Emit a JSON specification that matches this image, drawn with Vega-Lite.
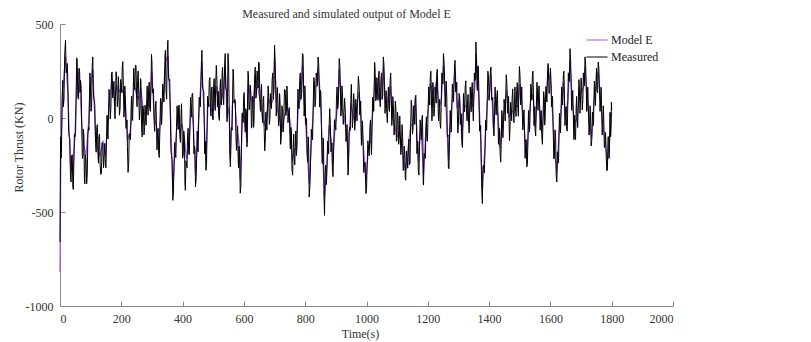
{
"$schema": "https://vega.github.io/schema/vega-lite/v6.json",
"width": 613, "height": 282,
"autosize": "none",
"padding": {"left": 60, "top": 24, "right": 138, "bottom": 36},
"background": "white",
"config": {
"view": {"stroke": null},
"axis": {"domainColor": "#888", "tickColor": "#888", "labelFont": "Liberation Serif", "labelFontSize": 12, "labelColor": "#333", "titleFont": "Liberation Serif", "titleFontSize": 12, "titleFontWeight": "normal", "titleColor": "#333", "grid": false, "tickSize": -5, "labelPadding": 12, "labelExpr": "'' + datum.value"},
"legend": {"labelFont": "Liberation Serif", "labelFontSize": 12, "labelColor": "#222"}
},
"title": {"text": "Measured and simulated output of Model E", "font": "Liberation Serif", "fontSize": 12, "fontWeight": "normal", "color": "#333", "offset": -3, "dx": -20},
"datasets": {
"meas": [{"t":0,"v":-660},{"t":1,"v":-290},{"t":2,"v":-100},{"t":3.5,"v":-215},{"t":5,"v":-150},{"t":7,"v":115},{"t":9,"v":200},{"t":11,"v":60},{"t":13,"v":100},{"t":15.5,"v":346},{"t":18,"v":413},{"t":20,"v":241},{"t":22,"v":250},{"t":24,"v":290},{"t":26,"v":150},{"t":28,"v":-65},{"t":30,"v":-100},{"t":32,"v":-110},{"t":34,"v":-300},{"t":36,"v":-340},{"t":38,"v":-200},{"t":40,"v":-195},{"t":42,"v":-370},{"t":43.5,"v":-380},{"t":45,"v":-250},{"t":47,"v":-85},{"t":49,"v":-100},{"t":51,"v":-65},{"t":53,"v":150},{"t":54.5,"v":320},{"t":56,"v":310},{"t":58,"v":115},{"t":60,"v":100},{"t":62,"v":265},{"t":64,"v":250},{"t":65.5,"v":135},{"t":67,"v":200},{"t":69,"v":165},{"t":71,"v":-50},{"t":73,"v":-215},{"t":75,"v":-200},{"t":76.5,"v":-60},{"t":78,"v":-100},{"t":79.5,"v":-315},{"t":81,"v":-350},{"t":83,"v":-195},{"t":85,"v":-220},{"t":87,"v":-350},{"t":89,"v":-300},{"t":91,"v":-85},{"t":93,"v":-50},{"t":94.5,"v":-65},{"t":96,"v":100},{"t":97.5,"v":240},{"t":99,"v":200},{"t":101,"v":35},{"t":103,"v":50},{"t":105,"v":277},{"t":107,"v":325},{"t":109,"v":122},{"t":111,"v":100},{"t":113.5,"v":73},{"t":116,"v":-135},{"t":118,"v":-182},{"t":120,"v":-50},{"t":122,"v":-35},{"t":124,"v":-200},{"t":125.5,"v":-240},{"t":127,"v":-100},{"t":129,"v":-85},{"t":131,"v":-250},{"t":133,"v":-300},{"t":135,"v":-295},{"t":137.5,"v":-132},{"t":140,"v":-150},{"t":142,"v":-265},{"t":144,"v":-200},{"t":146,"v":-135},{"t":148,"v":-250},{"t":150,"v":-265},{"t":152,"v":-100},{"t":153.5,"v":15},{"t":155,"v":-50},{"t":156.5,"v":-112},{"t":158,"v":5},{"t":160,"v":152},{"t":162,"v":120},{"t":164,"v":-5},{"t":166,"v":50},{"t":168,"v":237},{"t":170,"v":245},{"t":172,"v":107},{"t":174,"v":150},{"t":176,"v":195},{"t":178,"v":60},{"t":179.5,"v":-4},{"t":181,"v":112},{"t":183,"v":246},{"t":185,"v":200},{"t":187,"v":60},{"t":189,"v":100},{"t":190.5,"v":220},{"t":192,"v":160},{"t":194,"v":15},{"t":196,"v":50},{"t":198,"v":205},{"t":200,"v":180},{"t":201.5,"v":135},{"t":203,"v":271},{"t":205,"v":300},{"t":207,"v":150},{"t":208.5,"v":5},{"t":210,"v":40},{"t":211.5,"v":170},{"t":213,"v":120},{"t":215,"v":-55},{"t":217,"v":-50},{"t":218.5,"v":-10},{"t":220,"v":-150},{"t":222,"v":-289},{"t":224,"v":-248},{"t":226,"v":-84},{"t":228,"v":-100},{"t":230,"v":-115},{"t":232,"v":50},{"t":233.5,"v":117},{"t":235,"v":5},{"t":237,"v":-13},{"t":239,"v":150},{"t":240.5,"v":265},{"t":242,"v":200},{"t":244,"v":150},{"t":246,"v":280},{"t":248,"v":280},{"t":250,"v":100},{"t":251.5,"v":60},{"t":253,"v":200},{"t":255,"v":250},{"t":257,"v":120},{"t":259,"v":-10},{"t":261,"v":40},{"t":262.5,"v":210},{"t":264,"v":200},{"t":266,"v":-40},{"t":268,"v":-100},{"t":270,"v":65},{"t":272,"v":50},{"t":274,"v":-90},{"t":276,"v":-50},{"t":277.5,"v":68},{"t":279,"v":5},{"t":281,"v":-38},{"t":283,"v":100},{"t":284.5,"v":170},{"t":286,"v":60},{"t":287.5,"v":15},{"t":289,"v":150},{"t":291,"v":190},{"t":293,"v":50},{"t":295,"v":35},{"t":297,"v":200},{"t":298.5,"v":339},{"t":300,"v":298},{"t":301.5,"v":134},{"t":303,"v":150},{"t":305,"v":155},{"t":307,"v":-20},{"t":309,"v":-71},{"t":311,"v":58},{"t":313,"v":89},{"t":315,"v":-60},{"t":316.5,"v":-170},{"t":318,"v":-100},{"t":320,"v":-55},{"t":322,"v":-189},{"t":324,"v":-210},{"t":326,"v":-50},{"t":328,"v":105},{"t":330,"v":80},{"t":331.5,"v":-35},{"t":333,"v":30},{"t":335,"v":180},{"t":337,"v":150},{"t":339,"v":85},{"t":341,"v":200},{"t":342.5,"v":330},{"t":344,"v":360},{"t":346,"v":140},{"t":348,"v":100},{"t":350,"v":346},{"t":352,"v":413},{"t":354,"v":216},{"t":356,"v":200},{"t":358,"v":205},{"t":360,"v":30},{"t":362,"v":-175},{"t":364,"v":-200},{"t":366,"v":-229},{"t":368,"v":-438},{"t":370,"v":-400},{"t":372,"v":-250},{"t":374,"v":-130},{"t":376,"v":-189},{"t":378,"v":-210},{"t":380,"v":-50},{"t":382,"v":65},{"t":384,"v":0},{"t":385.5,"v":-61},{"t":387,"v":58},{"t":389,"v":69},{"t":391,"v":-100},{"t":393,"v":-130},{"t":395,"v":20},{"t":396.5,"v":76},{"t":398,"v":-48},{"t":400,"v":-214},{"t":402,"v":-200},{"t":404,"v":-70},{"t":406,"v":-120},{"t":407.5,"v":-342},{"t":409,"v":-385},{"t":411,"v":-227},{"t":413,"v":-250},{"t":414.5,"v":-265},{"t":416,"v":-100},{"t":418,"v":-55},{"t":420,"v":-190},{"t":422,"v":-195},{"t":424,"v":-20},{"t":426,"v":110},{"t":428,"v":60},{"t":429.5,"v":5},{"t":431,"v":130},{"t":433,"v":130},{"t":435,"v":-50},{"t":437,"v":-190},{"t":439,"v":-150},{"t":440.5,"v":-168},{"t":442,"v":-367},{"t":444,"v":-330},{"t":446,"v":-200},{"t":447.5,"v":-70},{"t":449,"v":-120},{"t":450.5,"v":-180},{"t":452,"v":-60},{"t":454,"v":110},{"t":456,"v":100},{"t":458,"v":60},{"t":460,"v":200},{"t":461.5,"v":300},{"t":463,"v":360},{"t":465,"v":165},{"t":467,"v":150},{"t":469,"v":140},{"t":471,"v":-50},{"t":472,"v":-190},{"t":473,"v":-150},{"t":474.5,"v":-124},{"t":476,"v":-278},{"t":478,"v":-254},{"t":480,"v":-50},{"t":481.5,"v":115},{"t":483,"v":100},{"t":485,"v":60},{"t":487,"v":200},{"t":489,"v":215},{"t":491,"v":50},{"t":492.5,"v":10},{"t":494,"v":150},{"t":496,"v":165},{"t":498,"v":0},{"t":499.5,"v":-10},{"t":501,"v":160},{"t":503,"v":210},{"t":505,"v":80},{"t":506.5,"v":40},{"t":508,"v":180},{"t":510,"v":280},{"t":512,"v":200},{"t":513.5,"v":60},{"t":515,"v":100},{"t":516.5,"v":142},{"t":518,"v":5},{"t":520,"v":-13},{"t":522,"v":150},{"t":523.5,"v":205},{"t":525,"v":80},{"t":527,"v":69},{"t":529,"v":238},{"t":530.5,"v":269},{"t":532,"v":120},{"t":534,"v":70},{"t":536,"v":200},{"t":537.5,"v":300},{"t":539,"v":343},{"t":541,"v":156},{"t":543,"v":150},{"t":544,"v":155},{"t":545,"v":-20},{"t":546.5,"v":71},{"t":548,"v":343},{"t":550,"v":286},{"t":552,"v":50},{"t":554,"v":-195},{"t":556,"v":-260},{"t":558,"v":-65},{"t":560,"v":-50},{"t":561.5,"v":-65},{"t":563,"v":100},{"t":564.5,"v":259},{"t":566,"v":238},{"t":568,"v":79},{"t":570,"v":100},{"t":572,"v":90},{"t":574,"v":-100},{"t":576,"v":-172},{"t":578,"v":-65},{"t":579.5,"v":-42},{"t":581,"v":-200},{"t":582.5,"v":-265},{"t":584,"v":-150},{"t":586,"v":-185},{"t":588,"v":-400},{"t":590,"v":-365},{"t":592,"v":-150},{"t":594,"v":25},{"t":596,"v":20},{"t":597.5,"v":-24},{"t":599,"v":112},{"t":601,"v":136},{"t":603,"v":-20},{"t":604.5,"v":-75},{"t":606,"v":50},{"t":608,"v":38},{"t":610,"v":-154},{"t":611,"v":-117},{"t":612,"v":100},{"t":613.5,"v":249},{"t":615,"v":218},{"t":617,"v":44},{"t":619,"v":50},{"t":621,"v":175},{"t":623,"v":120},{"t":624.5,"v":-54},{"t":626,"v":-48},{"t":628,"v":116},{"t":630,"v":100},{"t":631.5,"v":-50},{"t":633,"v":-20},{"t":635,"v":215},{"t":637,"v":271},{"t":639,"v":105},{"t":641,"v":120},{"t":643,"v":250},{"t":645,"v":200},{"t":646.5,"v":159},{"t":648,"v":298},{"t":650,"v":289},{"t":652,"v":100},{"t":654,"v":35},{"t":656,"v":150},{"t":657.5,"v":180},{"t":659,"v":30},{"t":661,"v":-25},{"t":663,"v":100},{"t":664.5,"v":115},{"t":666,"v":-50},{"t":668,"v":-174},{"t":670,"v":-118},{"t":671.5,"v":31},{"t":673,"v":0},{"t":675,"v":-65},{"t":677,"v":50},{"t":679,"v":171},{"t":681,"v":112},{"t":683,"v":-34},{"t":685,"v":0},{"t":686.5,"v":130},{"t":688,"v":80},{"t":690,"v":50},{"t":692,"v":200},{"t":694,"v":240},{"t":696,"v":100},{"t":698,"v":153},{"t":700,"v":387},{"t":702,"v":300},{"t":704,"v":150},{"t":705.5,"v":10},{"t":707,"v":50},{"t":709,"v":162},{"t":711,"v":94},{"t":713,"v":-43},{"t":715,"v":0},{"t":716.5,"v":130},{"t":718,"v":80},{"t":720,"v":-140},{"t":722,"v":-100},{"t":724,"v":65},{"t":726,"v":50},{"t":728,"v":-75},{"t":730,"v":-20},{"t":732.5,"v":153},{"t":735,"v":147},{"t":737,"v":13},{"t":739,"v":60},{"t":740.5,"v":170},{"t":742,"v":100},{"t":744,"v":-25},{"t":746,"v":30},{"t":748,"v":55},{"t":750,"v":-100},{"t":751.5,"v":-165},{"t":753,"v":-50},{"t":755,"v":-74},{"t":757,"v":-278},{"t":759,"v":-304},{"t":761,"v":-150},{"t":762.5,"v":-85},{"t":764,"v":-200},{"t":766,"v":-249},{"t":768,"v":-118},{"t":769.5,"v":-69},{"t":771,"v":-200},{"t":773,"v":-165},{"t":775,"v":50},{"t":776.5,"v":154},{"t":778,"v":78},{"t":780,"v":49},{"t":782,"v":200},{"t":784,"v":240},{"t":786,"v":100},{"t":788.5,"v":131},{"t":791,"v":343},{"t":793,"v":336},{"t":795,"v":150},{"t":796.5,"v":10},{"t":798,"v":50},{"t":799,"v":171},{"t":800,"v":112},{"t":801.5,"v":-34},{"t":803,"v":0},{"t":804.5,"v":-5},{"t":806,"v":-190},{"t":808,"v":-235},{"t":810,"v":-100},{"t":811.5,"v":-170},{"t":813,"v":-420},{"t":815.5,"v":-360},{"t":818,"v":-200},{"t":820,"v":-60},{"t":822,"v":-100},{"t":824,"v":-115},{"t":826,"v":50},{"t":828,"v":215},{"t":830,"v":200},{"t":832,"v":60},{"t":834,"v":100},{"t":836,"v":240},{"t":838,"v":200},{"t":840,"v":172},{"t":842,"v":325},{"t":844,"v":290},{"t":846,"v":150},{"t":847.5,"v":58},{"t":849,"v":147},{"t":851,"v":138},{"t":853,"v":-50},{"t":855,"v":-236},{"t":857,"v":-243},{"t":858.5,"v":-106},{"t":860,"v":-150},{"t":861.5,"v":-424},{"t":863,"v":-518},{"t":865,"v":-294},{"t":867,"v":-250},{"t":869,"v":-354},{"t":871,"v":-278},{"t":873,"v":-124},{"t":875,"v":-150},{"t":876.5,"v":-190},{"t":878,"v":-50},{"t":880,"v":50},{"t":882,"v":-30},{"t":884,"v":-180},{"t":886,"v":-150},{"t":887.5,"v":-132},{"t":889,"v":-295},{"t":891,"v":-312},{"t":893,"v":-150},{"t":895.5,"v":-9},{"t":898,"v":-48},{"t":900,"v":-64},{"t":902,"v":100},{"t":904,"v":165},{"t":906,"v":50},{"t":908.5,"v":93},{"t":911,"v":316},{"t":913,"v":280},{"t":915,"v":150},{"t":916.5,"v":10},{"t":918,"v":50},{"t":920,"v":171},{"t":922,"v":112},{"t":924,"v":-34},{"t":926,"v":0},{"t":928.5,"v":105},{"t":931,"v":30},{"t":933,"v":-125},{"t":935,"v":-100},{"t":936.5,"v":-35},{"t":938,"v":-150},{"t":939.5,"v":-304},{"t":941,"v":-278},{"t":943,"v":-74},{"t":945,"v":-50},{"t":947,"v":-65},{"t":949,"v":100},{"t":950.5,"v":179},{"t":952,"v":78},{"t":954,"v":-51},{"t":956,"v":0},{"t":958,"v":130},{"t":960,"v":80},{"t":961.5,"v":-65},{"t":963,"v":-30},{"t":965,"v":100},{"t":967,"v":50},{"t":969,"v":-15},{"t":971,"v":100},{"t":973.5,"v":222},{"t":976,"v":165},{"t":978,"v":17},{"t":980,"v":50},{"t":981,"v":90},{"t":982,"v":-50},{"t":983.5,"v":-145},{"t":985,"v":-60},{"t":987,"v":-15},{"t":989,"v":-150},{"t":991,"v":-290},{"t":993,"v":-250},{"t":995.5,"v":-236},{"t":998,"v":-402},{"t":1000,"v":-380},{"t":1002,"v":-250},{"t":1004.5,"v":-121},{"t":1007,"v":-172},{"t":1009,"v":-201},{"t":1011,"v":-50},{"t":1013,"v":-10},{"t":1015,"v":-150},{"t":1016.5,"v":-195},{"t":1018,"v":-60},{"t":1020,"v":110},{"t":1022,"v":100},{"t":1023.5,"v":35},{"t":1025,"v":150},{"t":1026.5,"v":296},{"t":1028,"v":263},{"t":1030,"v":91},{"t":1032,"v":100},{"t":1034,"v":215},{"t":1036,"v":150},{"t":1037.5,"v":94},{"t":1039,"v":218},{"t":1041,"v":249},{"t":1043,"v":100},{"t":1045,"v":60},{"t":1047,"v":200},{"t":1049,"v":240},{"t":1051,"v":100},{"t":1053,"v":122},{"t":1055,"v":325},{"t":1057,"v":280},{"t":1059,"v":150},{"t":1060.5,"v":25},{"t":1062,"v":80},{"t":1064,"v":145},{"t":1066,"v":30},{"t":1068,"v":-25},{"t":1070,"v":100},{"t":1071.5,"v":165},{"t":1073,"v":50},{"t":1075,"v":35},{"t":1077,"v":200},{"t":1079,"v":240},{"t":1081,"v":100},{"t":1082.5,"v":-40},{"t":1084,"v":0},{"t":1086,"v":114},{"t":1088,"v":48},{"t":1090,"v":-91},{"t":1092,"v":-50},{"t":1094,"v":90},{"t":1096,"v":50},{"t":1097.5,"v":-124},{"t":1099,"v":-118},{"t":1101,"v":31},{"t":1103,"v":0},{"t":1105,"v":-140},{"t":1107,"v":-100},{"t":1108.5,"v":10},{"t":1110,"v":-60},{"t":1112,"v":-195},{"t":1114,"v":-150},{"t":1116,"v":-35},{"t":1118,"v":-100},{"t":1119.5,"v":-279},{"t":1121,"v":-278},{"t":1123,"v":-149},{"t":1125,"v":-200},{"t":1126.5,"v":-320},{"t":1128,"v":-331},{"t":1130,"v":-175},{"t":1132,"v":-200},{"t":1134.5,"v":-267},{"t":1137,"v":-154},{"t":1138.5,"v":-112},{"t":1140,"v":-250},{"t":1142,"v":-240},{"t":1144,"v":-50},{"t":1146,"v":94},{"t":1148,"v":58},{"t":1150,"v":-86},{"t":1152,"v":-50},{"t":1154,"v":65},{"t":1156,"v":0},{"t":1157.5,"v":-34},{"t":1159,"v":112},{"t":1161,"v":121},{"t":1163,"v":-50},{"t":1164.5,"v":-190},{"t":1166,"v":-150},{"t":1167.5,"v":-124},{"t":1169,"v":-278},{"t":1171,"v":-304},{"t":1173,"v":-150},{"t":1175,"v":-10},{"t":1177,"v":-50},{"t":1179,"v":-115},{"t":1181,"v":0},{"t":1182.5,"v":15},{"t":1184,"v":-150},{"t":1185,"v":-344},{"t":1186,"v":-357},{"t":1188,"v":-189},{"t":1190,"v":-200},{"t":1192,"v":-215},{"t":1194,"v":-50},{"t":1195.5,"v":6},{"t":1197,"v":-118},{"t":1199,"v":-124},{"t":1201,"v":50},{"t":1203,"v":165},{"t":1205,"v":100},{"t":1206.5,"v":69},{"t":1208,"v":218},{"t":1210,"v":249},{"t":1212,"v":100},{"t":1213.5,"v":-15},{"t":1215,"v":50},{"t":1216.5,"v":189},{"t":1218,"v":147},{"t":1220,"v":9},{"t":1222,"v":50},{"t":1224,"v":165},{"t":1226,"v":100},{"t":1227.5,"v":79},{"t":1229,"v":238},{"t":1231,"v":259},{"t":1233,"v":100},{"t":1235,"v":-15},{"t":1237,"v":50},{"t":1238.5,"v":100},{"t":1240,"v":-30},{"t":1242,"v":-55},{"t":1244,"v":100},{"t":1246,"v":240},{"t":1248,"v":200},{"t":1249.5,"v":181},{"t":1251,"v":343},{"t":1253,"v":300},{"t":1255,"v":200},{"t":1256.5,"v":60},{"t":1258,"v":100},{"t":1260,"v":196},{"t":1262,"v":112},{"t":1263.5,"v":-84},{"t":1265,"v":-100},{"t":1266,"v":-90},{"t":1267,"v":-260},{"t":1269,"v":-270},{"t":1271,"v":-100},{"t":1273,"v":40},{"t":1275,"v":0},{"t":1276.5,"v":-75},{"t":1278,"v":30},{"t":1280,"v":180},{"t":1282,"v":150},{"t":1284,"v":85},{"t":1286,"v":200},{"t":1287.5,"v":290},{"t":1289,"v":307},{"t":1291,"v":138},{"t":1293,"v":150},{"t":1294.5,"v":190},{"t":1296,"v":50},{"t":1298,"v":-80},{"t":1300,"v":-30},{"t":1302,"v":131},{"t":1304,"v":112},{"t":1306,"v":-34},{"t":1308,"v":0},{"t":1309.5,"v":23},{"t":1311,"v":-135},{"t":1313,"v":-157},{"t":1315,"v":0},{"t":1316.5,"v":130},{"t":1318,"v":80},{"t":1320,"v":33},{"t":1322,"v":166},{"t":1324,"v":198},{"t":1326,"v":50},{"t":1328,"v":-15},{"t":1330,"v":100},{"t":1331.5,"v":125},{"t":1333,"v":-30},{"t":1335,"v":-80},{"t":1337,"v":50},{"t":1338.5,"v":165},{"t":1340,"v":100},{"t":1341.5,"v":33},{"t":1343,"v":147},{"t":1345,"v":188},{"t":1347,"v":50},{"t":1348.5,"v":-15},{"t":1350,"v":100},{"t":1352,"v":240},{"t":1354,"v":200},{"t":1355.5,"v":212},{"t":1357,"v":404},{"t":1358.5,"v":330},{"t":1360,"v":200},{"t":1361.5,"v":146},{"t":1363,"v":273},{"t":1365,"v":276},{"t":1367,"v":100},{"t":1369,"v":-70},{"t":1371,"v":-60},{"t":1372.5,"v":-40},{"t":1374,"v":-200},{"t":1376,"v":-380},{"t":1378,"v":-455},{"t":1380,"v":-262},{"t":1382,"v":-250},{"t":1384.5,"v":-292},{"t":1387,"v":-154},{"t":1388.5,"v":-12},{"t":1390,"v":-50},{"t":1392,"v":-65},{"t":1394,"v":100},{"t":1396,"v":249},{"t":1398,"v":218},{"t":1400,"v":94},{"t":1402,"v":150},{"t":1404,"v":240},{"t":1406,"v":271},{"t":1408,"v":95},{"t":1410,"v":100},{"t":1412,"v":110},{"t":1414,"v":-60},{"t":1416,"v":-95},{"t":1418,"v":50},{"t":1419.5,"v":165},{"t":1421,"v":100},{"t":1423,"v":16},{"t":1425,"v":112},{"t":1427,"v":146},{"t":1429,"v":0},{"t":1430.5,"v":-140},{"t":1432,"v":-100},{"t":1434,"v":-55},{"t":1436,"v":-190},{"t":1438,"v":-235},{"t":1440,"v":-100},{"t":1441.5,"v":40},{"t":1443,"v":0},{"t":1445,"v":-105},{"t":1447,"v":-30},{"t":1449,"v":100},{"t":1451,"v":50},{"t":1452.5,"v":-15},{"t":1454,"v":100},{"t":1456,"v":230},{"t":1458,"v":180},{"t":1460,"v":25},{"t":1462,"v":50},{"t":1463.5,"v":115},{"t":1465,"v":0},{"t":1466.5,"v":-120},{"t":1468,"v":-60},{"t":1470,"v":85},{"t":1472,"v":50},{"t":1473.5,"v":-15},{"t":1475,"v":100},{"t":1477,"v":155},{"t":1479,"v":30},{"t":1481,"v":-25},{"t":1483,"v":100},{"t":1484.5,"v":165},{"t":1486,"v":50},{"t":1488,"v":8},{"t":1490,"v":147},{"t":1492,"v":188},{"t":1494,"v":50},{"t":1495.5,"v":10},{"t":1497,"v":150},{"t":1499,"v":274},{"t":1501,"v":218},{"t":1503,"v":69},{"t":1505,"v":100},{"t":1506.5,"v":165},{"t":1508,"v":50},{"t":1510,"v":-63},{"t":1512,"v":5},{"t":1514,"v":43},{"t":1516,"v":-100},{"t":1517.5,"v":-215},{"t":1519,"v":-150},{"t":1521,"v":-115},{"t":1523,"v":-260},{"t":1525,"v":-240},{"t":1527,"v":-100},{"t":1528.5,"v":40},{"t":1530,"v":0},{"t":1532,"v":-75},{"t":1534,"v":30},{"t":1536,"v":180},{"t":1538,"v":150},{"t":1539.5,"v":94},{"t":1541,"v":218},{"t":1543,"v":249},{"t":1545,"v":100},{"t":1546.5,"v":-40},{"t":1548,"v":0},{"t":1549,"v":60},{"t":1550,"v":-60},{"t":1552,"v":-95},{"t":1554,"v":50},{"t":1556,"v":190},{"t":1558,"v":150},{"t":1559.5,"v":41},{"t":1561,"v":112},{"t":1563,"v":171},{"t":1565,"v":50},{"t":1566.5,"v":-65},{"t":1568,"v":0},{"t":1570,"v":40},{"t":1572,"v":-100},{"t":1574,"v":-140},{"t":1576,"v":0},{"t":1578,"v":140},{"t":1580,"v":100},{"t":1581.5,"v":-38},{"t":1583,"v":5},{"t":1585,"v":167},{"t":1587,"v":150},{"t":1588.5,"v":85},{"t":1590,"v":200},{"t":1591.5,"v":280},{"t":1593,"v":290},{"t":1595.5,"v":130},{"t":1598,"v":150},{"t":1600,"v":265},{"t":1602,"v":200},{"t":1603.5,"v":60},{"t":1605,"v":100},{"t":1607,"v":115},{"t":1609,"v":-50},{"t":1611,"v":-218},{"t":1613,"v":-207},{"t":1615,"v":-63},{"t":1617,"v":-100},{"t":1619,"v":-310},{"t":1621,"v":-340},{"t":1623,"v":-180},{"t":1625,"v":-200},{"t":1626.5,"v":-240},{"t":1628,"v":-100},{"t":1629.5,"v":25},{"t":1631,"v":-30},{"t":1633,"v":-80},{"t":1635,"v":50},{"t":1636.5,"v":165},{"t":1638,"v":100},{"t":1640,"v":69},{"t":1642,"v":218},{"t":1644,"v":249},{"t":1646,"v":100},{"t":1647.5,"v":-40},{"t":1649,"v":0},{"t":1651,"v":60},{"t":1653,"v":-60},{"t":1655,"v":-70},{"t":1657,"v":100},{"t":1658.5,"v":240},{"t":1660,"v":200},{"t":1662,"v":194},{"t":1664,"v":369},{"t":1666,"v":300},{"t":1668,"v":150},{"t":1669.5,"v":41},{"t":1671,"v":112},{"t":1673,"v":146},{"t":1675,"v":0},{"t":1676.5,"v":-115},{"t":1678,"v":-50},{"t":1679,"v":15},{"t":1680,"v":-100},{"t":1682,"v":-115},{"t":1684,"v":50},{"t":1685.5,"v":115},{"t":1687,"v":0},{"t":1689,"v":-51},{"t":1691,"v":78},{"t":1693,"v":204},{"t":1695,"v":150},{"t":1696.5,"v":25},{"t":1698,"v":80},{"t":1700,"v":213},{"t":1702,"v":166},{"t":1704,"v":43},{"t":1706,"v":100},{"t":1707.5,"v":240},{"t":1709,"v":200},{"t":1711,"v":172},{"t":1713,"v":325},{"t":1715,"v":280},{"t":1717,"v":150},{"t":1718.5,"v":35},{"t":1720,"v":100},{"t":1722,"v":164},{"t":1724,"v":48},{"t":1726,"v":-91},{"t":1728,"v":-50},{"t":1729.5,"v":65},{"t":1731,"v":0},{"t":1733,"v":-149},{"t":1735,"v":-118},{"t":1737,"v":31},{"t":1739,"v":0},{"t":1740.5,"v":-40},{"t":1742,"v":100},{"t":1743.5,"v":196},{"t":1745,"v":112},{"t":1747,"v":66},{"t":1749,"v":200},{"t":1750.5,"v":265},{"t":1752,"v":150},{"t":1754,"v":134},{"t":1756,"v":298},{"t":1758,"v":270},{"t":1760,"v":150},{"t":1762,"v":35},{"t":1764,"v":100},{"t":1765.5,"v":164},{"t":1767,"v":48},{"t":1769,"v":-91},{"t":1771,"v":-50},{"t":1772.5,"v":65},{"t":1774,"v":0},{"t":1776,"v":-157},{"t":1778,"v":-135},{"t":1780,"v":-77},{"t":1782,"v":-200},{"t":1784,"v":-280},{"t":1786,"v":-278},{"t":1788,"v":-99},{"t":1790,"v":-100},{"t":1791.5,"v":-215},{"t":1793,"v":-150},{"t":1794,"v":30},{"t":1795,"v":30},{"t":1796.5,"v":-100},{"t":1798,"v":-50},{"t":1799,"v":85},{"t":1800,"v":40}],
"model": [{"t":0,"v":-820},{"t":3,"v":-150},{"t":9,"v":150},{"t":18,"v":330},{"t":26,"v":120},{"t":34,"v":-250},{"t":42,"v":-300},{"t":49,"v":-80},{"t":56,"v":260},{"t":64,"v":200},{"t":71,"v":-30},{"t":78,"v":-150},{"t":85,"v":-200},{"t":93,"v":-30},{"t":99,"v":170},{"t":107,"v":260},{"t":116,"v":-100},{"t":124,"v":-170},{"t":131,"v":-200},{"t":140,"v":-120},{"t":148,"v":-200},{"t":155,"v":-30},{"t":162,"v":100},{"t":170,"v":210},{"t":178,"v":80},{"t":185,"v":170},{"t":192,"v":140},{"t":200,"v":160},{"t":207,"v":130},{"t":213,"v":100},{"t":220,"v":-120},{"t":228,"v":-80},{"t":235,"v":20},{"t":242,"v":180},{"t":250,"v":120},{"t":257,"v":100},{"t":264,"v":160},{"t":272,"v":30},{"t":279,"v":20},{"t":286,"v":80},{"t":293,"v":60},{"t":300,"v":250},{"t":307,"v":0},{"t":315,"v":-40},{"t":322,"v":-150},{"t":330,"v":60},{"t":337,"v":130},{"t":344,"v":300},{"t":352,"v":330},{"t":360,"v":40},{"t":368,"v":-380},{"t":376,"v":-160},{"t":384,"v":10},{"t":391,"v":-80},{"t":398,"v":-30},{"t":406,"v":-110},{"t":413,"v":-220},{"t":420,"v":-160},{"t":428,"v":50},{"t":435,"v":-30},{"t":442,"v":-300},{"t":449,"v":-100},{"t":456,"v":90},{"t":463,"v":300},{"t":471,"v":-30},{"t":476,"v":-230},{"t":483,"v":80},{"t":491,"v":60},{"t":498,"v":20},{"t":505,"v":90},{"t":512,"v":170},{"t":518,"v":20},{"t":525,"v":90},{"t":532,"v":130},{"t":539,"v":280},{"t":545,"v":0},{"t":552,"v":60},{"t":556,"v":-220},{"t":563,"v":90},{"t":570,"v":90},{"t":578,"v":-60},{"t":584,"v":-130},{"t":588,"v":-330},{"t":596,"v":30},{"t":603,"v":-10},{"t":610,"v":-130},{"t":615,"v":180},{"t":623,"v":100},{"t":630,"v":80},{"t":637,"v":230},{"t":645,"v":170},{"t":652,"v":100},{"t":659,"v":40},{"t":666,"v":-40},{"t":673,"v":10},{"t":681,"v":100},{"t":688,"v":70},{"t":696,"v":100},{"t":700,"v":320},{"t":707,"v":60},{"t":715,"v":10},{"t":722,"v":-80},{"t":730,"v":-10},{"t":739,"v":60},{"t":746,"v":30},{"t":753,"v":-40},{"t":757,"v":-230},{"t":764,"v":-170},{"t":771,"v":-160},{"t":778,"v":70},{"t":786,"v":100},{"t":791,"v":280},{"t":798,"v":60},{"t":806,"v":-160},{"t":813,"v":-350},{"t":822,"v":-90},{"t":830,"v":170},{"t":838,"v":170},{"t":842,"v":270},{"t":849,"v":130},{"t":857,"v":-200},{"t":863,"v":-430},{"t":871,"v":-240},{"t":878,"v":-40},{"t":886,"v":-130},{"t":889,"v":-250},{"t":898,"v":-40},{"t":906,"v":60},{"t":911,"v":260},{"t":918,"v":60},{"t":926,"v":10},{"t":935,"v":-80},{"t":941,"v":-230},{"t":949,"v":80},{"t":956,"v":10},{"t":963,"v":-20},{"t":971,"v":90},{"t":976,"v":140},{"t":985,"v":-50},{"t":993,"v":-210},{"t":998,"v":-340},{"t":1007,"v":-150},{"t":1015,"v":-120},{"t":1022,"v":80},{"t":1028,"v":220},{"t":1036,"v":130},{"t":1043,"v":100},{"t":1051,"v":100},{"t":1055,"v":270},{"t":1062,"v":80},{"t":1070,"v":90},{"t":1077,"v":170},{"t":1084,"v":10},{"t":1092,"v":-40},{"t":1099,"v":-100},{"t":1107,"v":-80},{"t":1114,"v":-130},{"t":1121,"v":-230},{"t":1128,"v":-280},{"t":1137,"v":-140},{"t":1144,"v":-40},{"t":1152,"v":-30},{"t":1159,"v":100},{"t":1166,"v":-120},{"t":1169,"v":-230},{"t":1177,"v":-40},{"t":1186,"v":-300},{"t":1194,"v":-50},{"t":1201,"v":40},{"t":1208,"v":180},{"t":1218,"v":130},{"t":1229,"v":200},{"t":1237,"v":60},{"t":1244,"v":90},{"t":1251,"v":280},{"t":1258,"v":100},{"t":1267,"v":-220},{"t":1275,"v":0},{"t":1282,"v":130},{"t":1289,"v":260},{"t":1296,"v":50},{"t":1304,"v":100},{"t":1311,"v":-110},{"t":1318,"v":70},{"t":1326,"v":60},{"t":1333,"v":-20},{"t":1340,"v":90},{"t":1347,"v":60},{"t":1354,"v":170},{"t":1357,"v":340},{"t":1363,"v":230},{"t":1371,"v":-50},{"t":1378,"v":-380},{"t":1387,"v":-130},{"t":1394,"v":90},{"t":1402,"v":140},{"t":1406,"v":230},{"t":1414,"v":-50},{"t":1421,"v":90},{"t":1429,"v":10},{"t":1436,"v":-160},{"t":1443,"v":0},{"t":1451,"v":40},{"t":1458,"v":150},{"t":1465,"v":0},{"t":1472,"v":40},{"t":1479,"v":30},{"t":1486,"v":60},{"t":1494,"v":60},{"t":1501,"v":180},{"t":1508,"v":50},{"t":1516,"v":-80},{"t":1523,"v":-220},{"t":1530,"v":0},{"t":1538,"v":130},{"t":1545,"v":100},{"t":1550,"v":-50},{"t":1558,"v":130},{"t":1565,"v":50},{"t":1572,"v":-80},{"t":1580,"v":80},{"t":1587,"v":130},{"t":1593,"v":250},{"t":1602,"v":170},{"t":1609,"v":-40},{"t":1613,"v":-170},{"t":1621,"v":-290},{"t":1628,"v":-90},{"t":1635,"v":40},{"t":1642,"v":190},{"t":1649,"v":10},{"t":1657,"v":90},{"t":1664,"v":310},{"t":1671,"v":100},{"t":1678,"v":-40},{"t":1687,"v":0},{"t":1695,"v":130},{"t":1702,"v":140},{"t":1709,"v":170},{"t":1713,"v":270},{"t":1720,"v":90},{"t":1728,"v":-40},{"t":1735,"v":-100},{"t":1742,"v":90},{"t":1749,"v":170},{"t":1756,"v":250},{"t":1764,"v":90},{"t":1771,"v":-40},{"t":1778,"v":-110},{"t":1786,"v":-230},{"t":1793,"v":-120},{"t":1800,"v":30}]
},
"encoding": {
"x": {"field": "t", "type": "quantitative", "scale": {"domain": [0, 2000], "nice": false}, "axis": {"values": [0,200,400,600,800,1000,1200,1400,1600,1800,2000], "title": "Time(s)", "titleX": 300, "titleY": 27, "titleBaseline": "middle", "labelPadding": 12}},
"y": {"field": "v", "type": "quantitative", "scale": {"domain": [-1000, 500], "nice": false}, "axis": {"values": [-1000,-500,0,500], "title": "Rotor Thrust (KN)", "titleX": -42, "titleY": 123, "titleBaseline": "middle", "labelPadding": 12}}
},
"layer": [
{"data": {"name": "model"}, "mark": {"type": "line", "strokeWidth": 1.2}, "encoding": {"color": {"datum": "Model E", "type": "nominal", "scale": {"domain": ["Model E", "Measured"], "range": ["#a64dff", "#000000"]}, "legend": {"title": null, "orient": "none", "legendX": 526, "legendY": 5, "symbolType": "stroke", "symbolSize": 441, "symbolStrokeWidth": 1, "labelOffset": 3, "rowPadding": -7, "padding": 0}}}},
{"data": {"name": "meas"}, "mark": {"type": "line", "strokeWidth": 1}, "encoding": {"color": {"datum": "Measured", "type": "nominal"}}}
]
}
